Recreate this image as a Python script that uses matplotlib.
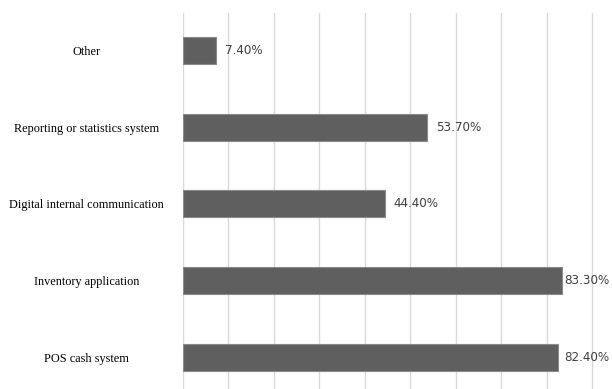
import numpy as np
import matplotlib.pyplot as plt

categories = ["POS cash system", "Inventory application", "Digital internal communication",
              "Reporting or statistics system", "Other"]
values = [82.4, 83.3, 44.4, 53.7, 7.4]
labels = ["82.40%", "83.30%", "44.40%", "53.70%", "7.40%"]

fig = plt.figure(figsize=(6.12, 3.89), dpi=100)
ax = fig.add_axes([0.2985, -0.0145, 0.7015, 0.981])

y = np.arange(len(categories))
ax.barh(y, values, height=0.35, color="#5f5f5f", edgecolor="#8a8a8a", linewidth=0.8, zorder=3)

ax.set_xlim(0, 94.35)
ax.set_ylim(-0.49, 4.49)
ax.set_xticks(np.arange(0, 100, 10))
ax.xaxis.grid(True, color="#d9d9d9", linewidth=1.0, zorder=0)
ax.tick_params(axis="x", length=0, labelbottom=False)

ax.set_yticks(y)
ax.set_yticklabels(categories, family="Liberation Serif", fontsize=8.8, ha="center")
ax.tick_params(axis="y", length=0, pad=69)

for s in ax.spines.values():
    s.set_visible(False)

# value labels just past the bar end, kept inside the plot on the long bars
for yi, v, t in zip(y, values, labels):
    ax.text(min(v + 1.9, 83.8), yi, t, va="center", ha="left", color="#404040",
            fontsize=9.5, family=["DejaVu Sans"], fontstretch="condensed", zorder=4)

fig.savefig("out.png", dpi=100)
